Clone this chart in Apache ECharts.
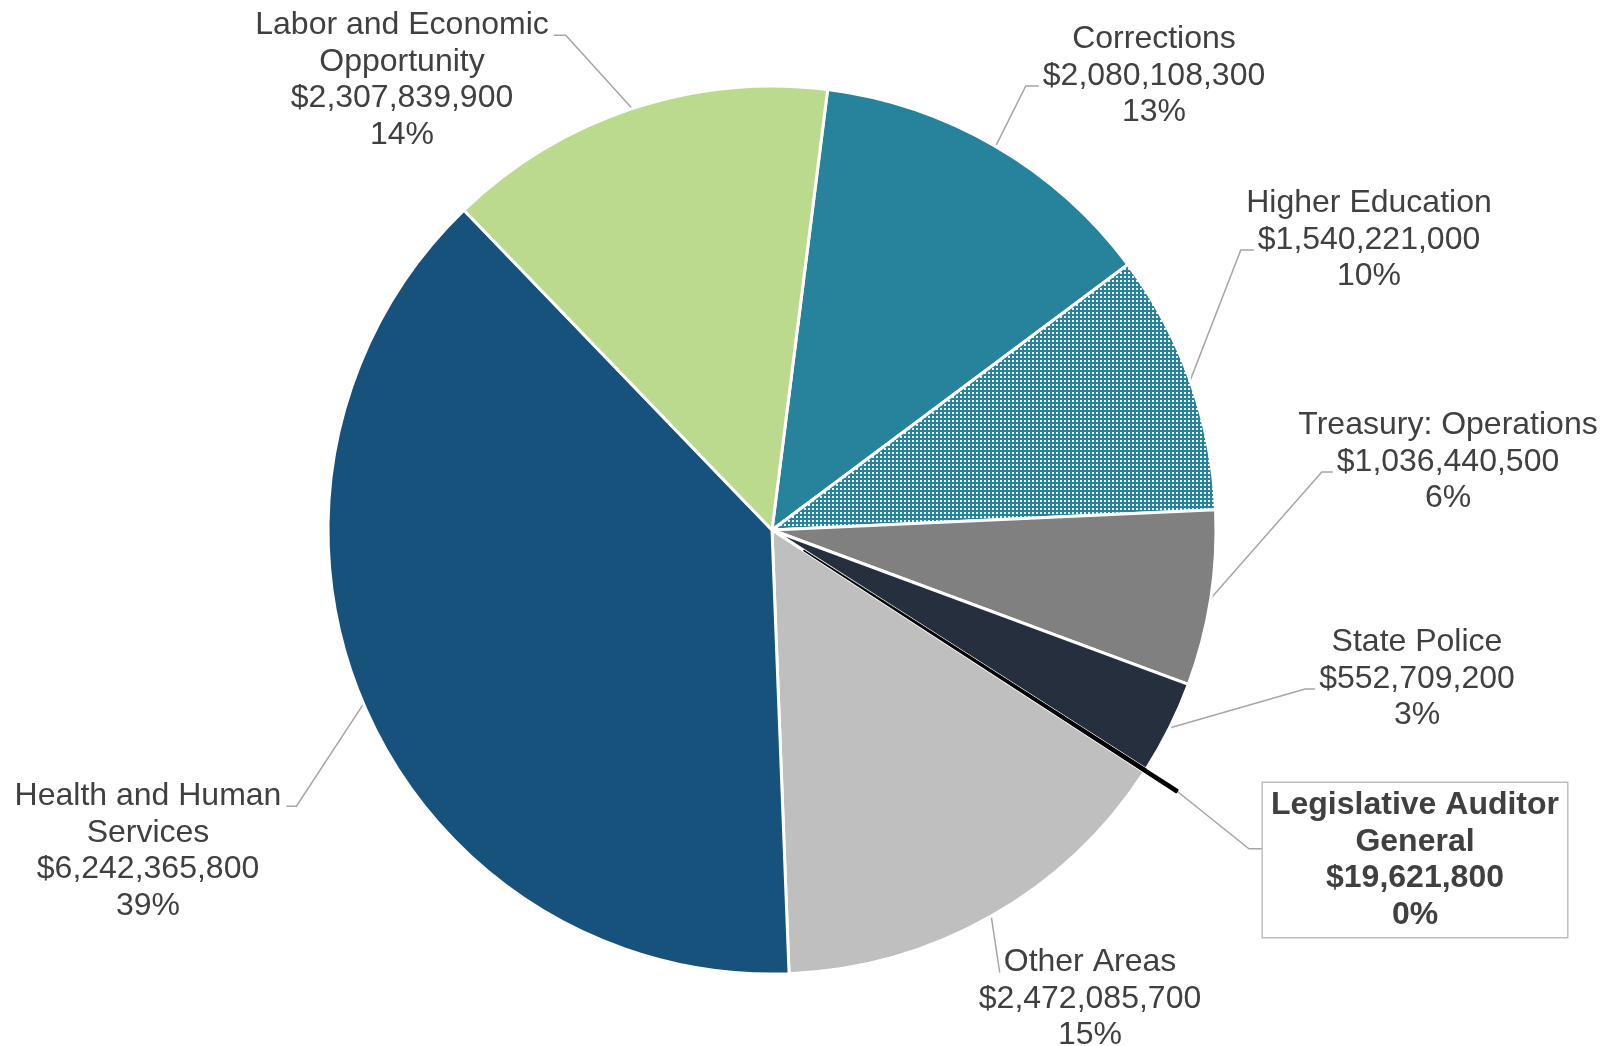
<!DOCTYPE html>
<html>
<head>
<meta charset="utf-8">
<script src="https://cdn.jsdelivr.net/npm/echarts@6/dist/echarts.min.js"></script>
<style>
  html, body { margin: 0; padding: 0; background: #fff; }
  #main { width: 1610px; height: 1046px; }
</style>
</head>
<body>
<div id="main"></div>
<script>
// 数据
var categories = [
  'Corrections',
  'Higher Education',
  'Treasury: Operations',
  'State Police',
  'Legislative Auditor\nGeneral',
  'Other Areas',
  'Health and Human\nServices',
  'Labor and Economic\nOpportunity'
];
var amounts = [2080108300, 1540221000, 1036440500, 552709200, 19621800, 2472085700, 6242365800, 2307839900];

// 样式
var sliceColors = ['#26839b', 'PATTERN', '#808080', '#262f3d', '#000000', '#bfbfbf', '#16527c', '#bbda8e'];
var explodedIdx = 4;

var CX = 772, CY = 530, R = 444;
var START = 82.8;      // echarts startAngle
var EXPLODE = 38;
var FONT = 32, LH = 36.5;
var TEXT_COLOR = '#404040';
var LINE_COLOR = '#a6a6a6';

// 标签位置 (x, y = label block centre; line = which text line the leader hits)
var labelSpots = [
  { x: 1154, y: 76,  line: 1, side: 'left',  tail: 13 },
  { x: 1369, y: 240, line: 1, side: 'left',  tail: 13 },
  { x: 1448, y: 462, line: 1, side: 'left',  tail: 11 },
  { x: 1417, y: 679, line: 1, side: 'left',  tail: 10 },
  { x: 1415, y: 860, line: 1, side: 'left',  tail: 14, box: true },
  { x: 1090, y: 999, line: 0, side: 'left',  tail: 0 },
  { x: 148,  y: 851, line: 0, side: 'right', tail: 10 },
  { x: 402,  y: 80,  line: 0, side: 'right', tail: 12 }
];

// 点状纹理
var tile = document.createElement('canvas');
tile.width = 4; tile.height = 4;
var tc = tile.getContext('2d');
tc.fillStyle = '#26839b'; tc.fillRect(0, 0, 4, 4);
tc.fillStyle = 'rgba(255,255,255,0.92)'; tc.fillRect(0, 0, 2, 2);

var measureCtx = document.createElement('canvas').getContext('2d');
function textW(s, bold) {
  measureCtx.font = (bold ? 'bold ' : '') + FONT + 'px "Liberation Sans"';
  return measureCtx.measureText(s).width;
}

function fmtLabel(name, value, pct) {
  return name + '\n$' + value.toLocaleString('en-US') + '\n' + pct + '%';
}

var total = amounts.reduce(function (a, b) { return a + b; }, 0);
var midAngles = [];
(function () {
  var acc = 0;
  for (var i = 0; i < amounts.length; i++) {
    midAngles.push(((90 - START) + (acc + amounts[i] / 2) / total * 360) * Math.PI / 180);
    acc += amounts[i];
  }
})();

var boxPad = [4, 8];

var dataA = categories.map(function (name, i) {
  var color = sliceColors[i] === 'PATTERN' ? { image: tile, repeat: 'repeat' } : sliceColors[i];
  var item = { name: name, value: amounts[i], itemStyle: { color: color } };
  if (i === explodedIdx) {
    item.itemStyle.borderColor = '#000';
    item.itemStyle.borderWidth = 1.5;
    item.label = {
      fontWeight: 'bold',
      backgroundColor: '#fff',
      borderColor: '#bfbfbf',
      borderWidth: 1.5,
      padding: boxPad
    };
  }
  return item;
});

var dataB = categories.map(function (name, i) {
  return {
    name: name,
    value: amounts[i],
    itemStyle: i === explodedIdx
      ? { color: '#000', borderColor: '#000', borderWidth: 1.5 }
      : { color: 'rgba(0,0,0,0)', borderWidth: 0 }
  };
});

var chart = echarts.init(document.getElementById('main'));

var option = {
  animation: false,
  backgroundColor: '#fff',
  series: [
    {
      type: 'pie',
      center: [CX, CY],
      radius: R,
      startAngle: START,
      clockwise: true,
      percentPrecision: 0,
      avoidLabelOverlap: false,
      emphasis: { disabled: true },
      itemStyle: { borderColor: '#fff', borderWidth: 3 },
      label: {
        show: true,
        position: 'outside',
        color: TEXT_COLOR,
        fontFamily: 'Liberation Sans',
        fontSize: FONT,
        lineHeight: LH,
        align: 'center',
        formatter: function (p) { return fmtLabel(p.name, p.value, p.percent); }
      },
      labelLine: {
        show: true,
        length: 10,
        length2: 10,
        smooth: false,
        lineStyle: { color: LINE_COLOR, width: 1.5 }
      },
      labelLayout: function (p) {
        var i = p.dataIndex;
        var s = labelSpots[i];
        var lines = fmtLabel(categories[i], amounts[i], 0).split('\n');
        var n = lines.length;
        var bold = !!s.box;
        var r = R + (i === explodedIdx ? EXPLODE : 0);
        var a = midAngles[i];
        var p0 = [CX + r * Math.sin(a), CY - r * Math.cos(a)];
        var lineY = s.y - (n - 1) / 2 * LH + s.line * LH;
        var ax, ay;
        if (s.box) {
          var maxW = 0;
          lines.forEach(function (t) { maxW = Math.max(maxW, textW(t, true)); });
          ax = s.x - maxW / 2 - boxPad[1];
          ay = lineY + 7;
        } else {
          var w = textW(lines[s.line], bold);
          ax = s.side === 'left' ? s.x - w / 2 - 4 : s.x + w / 2 + 5;
          ay = lineY + 10;
        }
        var p1 = [s.side === 'left' ? ax - s.tail : ax + s.tail, ay];
        return {
          x: s.x,
          y: s.y,
          align: 'center',
          verticalAlign: 'middle',
          labelLinePoints: [p0, p1, [ax, ay]]
        };
      },
      data: dataA
    },
    {
      type: 'pie',
      silent: true,
      center: [CX + EXPLODE * Math.sin(midAngles[explodedIdx]), CY - EXPLODE * Math.cos(midAngles[explodedIdx])],
      radius: R,
      startAngle: START,
      clockwise: true,
      emphasis: { disabled: true },
      label: { show: false },
      labelLine: { show: false },
      data: dataB
    }
  ]
};

chart.setOption(option);
</script>
</body>
</html>
